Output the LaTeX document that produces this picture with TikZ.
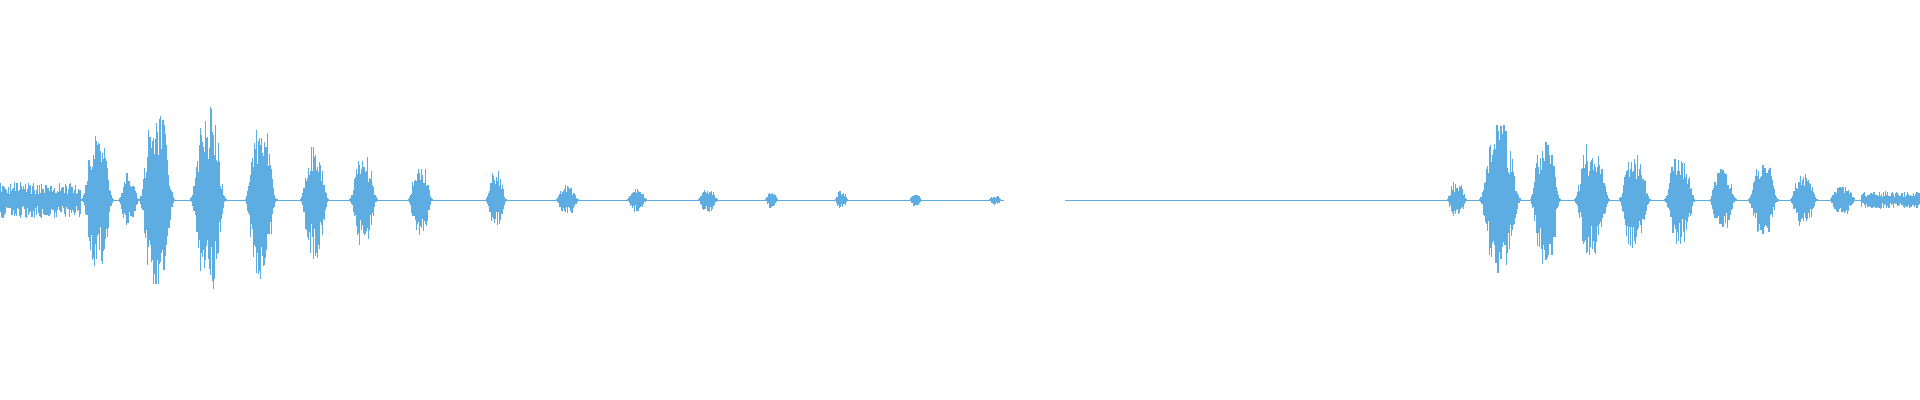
\documentclass[tikz,border=0pt]{standalone}
\definecolor{wave}{HTML}{5DADE2}
\begin{document}
\begin{tikzpicture}[x=0.012245cm,y=0.012245cm,wv/.style={draw=wave,line width=0.35pt}]
\useasboundingbox (0,0) rectangle (1568,326.6);
\pgfmathsetseed{7}
\draw[draw=wave,line width=0.25pt] (0,163.3) -- (820,163.3) (870,163.3) -- (1170,163.3) (1170,163.3) -- (1568,163.3);
% leading noise
\foreach \x in {0,0.8,...,66}{
  \pgfmathsetmacro\h{15*(0.3+0.7*rnd)}\pgfmathsetmacro\g{15*(0.3+0.7*rnd)}
  \draw[wv] (\x,163.3-\g) -- (\x,163.3+\h);}
\foreach \x in {1520,1520.8,...,1568}{
  \pgfmathsetmacro\h{7*(0.3+0.7*rnd)}\pgfmathsetmacro\g{7*(0.3+0.7*rnd)}
  \draw[wv] (\x,163.3-\g) -- (\x,163.3+\h);}
\foreach \c/\a/\w in {80/55/9,105/22/6,128/75/10,170/78/10,213/65/9,257/48/8,297/38/8,343/30/7,405/25/6,463/12/7,520/10/6,578/10/6,630/7/4,687/8/4,748/5/4,813/4/4,1190/16/6,1225/62/12,1262/54/9,1300/48/10,1335/40/9,1372/38/9,1407/26/8,1440/30/9,1473/22/8,1505/12/8}{
  \pgfmathsetmacro\lo{\c-1.8*\w}\pgfmathsetmacro\st{\lo+0.8}\pgfmathsetmacro\hi{\c+1.8*\w}
  \foreach \x in {\lo,\st,...,\hi}{
    \pgfmathsetmacro\e{\a*exp(-((\x-\c)/\w)^4)}
    \pgfmathsetmacro\h{\e*(0.4+0.6*rnd)}\pgfmathsetmacro\g{\e*(0.4+0.6*rnd)}
    \draw[wv] (\x,163.3-\g) -- (\x,163.3+\h);}
}
\end{tikzpicture}
\end{document}
